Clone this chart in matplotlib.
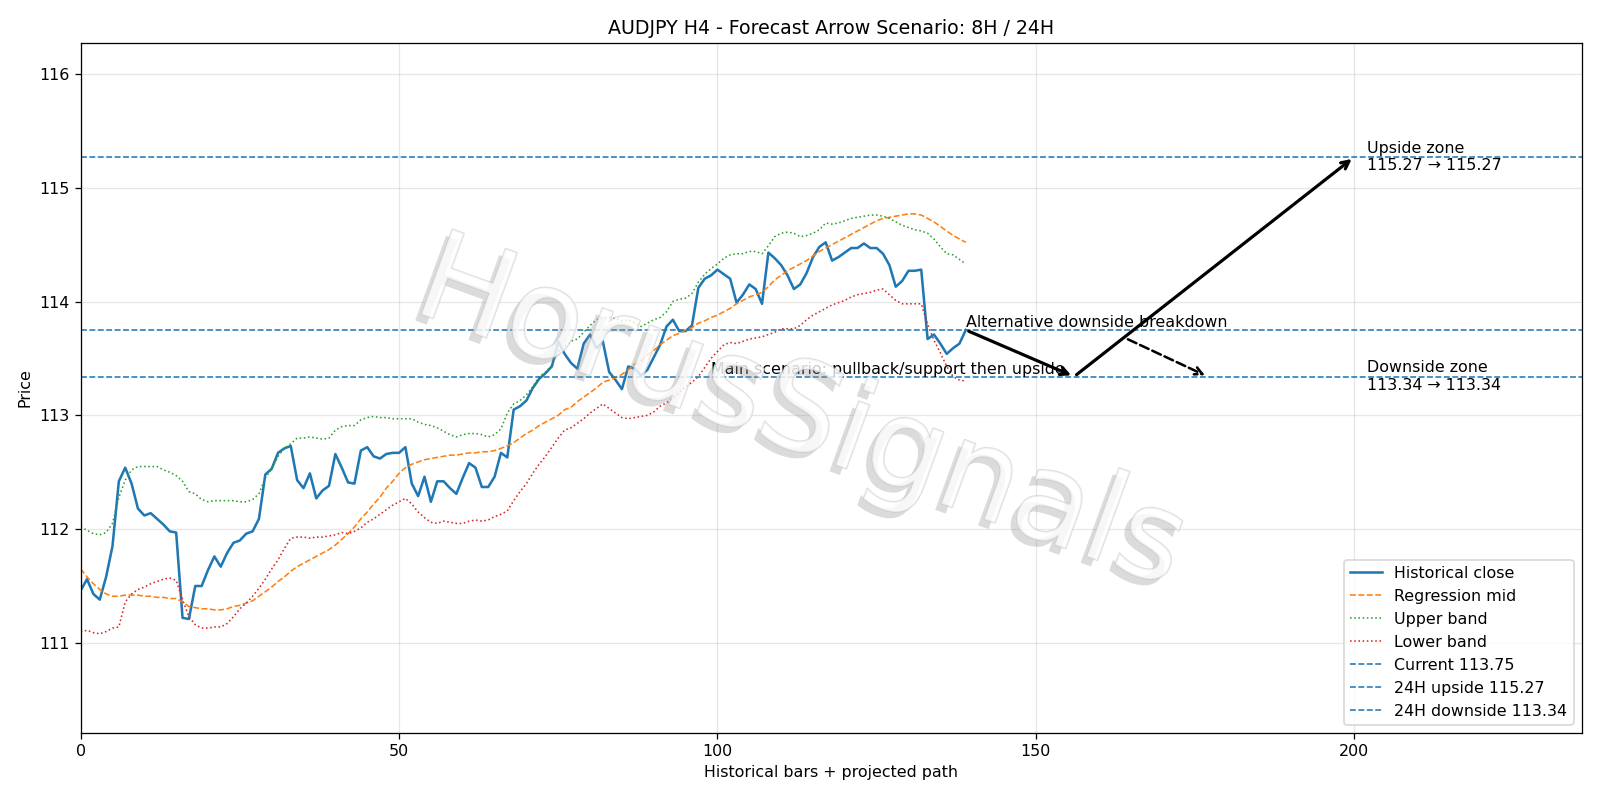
import matplotlib
matplotlib.use("Agg")
import matplotlib.pyplot as plt
import matplotlib.patheffects as pe
import numpy as np

close = [
    111.46, 111.56, 111.43, 111.38, 111.58, 111.85, 112.42, 112.54, 112.40, 112.18,
    112.12, 112.14, 112.09, 112.04, 111.98, 111.97, 111.22, 111.21, 111.50, 111.50,
    111.64, 111.76, 111.67, 111.79, 111.88, 111.90, 111.96, 111.98, 112.09, 112.48,
    112.53, 112.67, 112.71, 112.73, 112.43, 112.36, 112.49, 112.27, 112.34, 112.38,
    112.66, 112.54, 112.41, 112.40, 112.69, 112.72, 112.64, 112.62, 112.66, 112.67,
    112.67, 112.72, 112.40, 112.29, 112.46, 112.24, 112.42, 112.42, 112.36, 112.31,
    112.45, 112.58, 112.54, 112.37, 112.37, 112.46, 112.67, 112.63, 113.05, 113.08,
    113.13, 113.24, 113.32, 113.37, 113.43, 113.65, 113.54, 113.46, 113.41, 113.63,
    113.71, 113.59, 113.65, 113.38, 113.31, 113.23, 113.43, 113.41, 113.35, 113.40,
    113.51, 113.62, 113.78, 113.84, 113.74, 113.74, 113.79, 114.12, 114.20, 114.23,
    114.28, 114.24, 114.20, 113.99, 114.06, 114.15, 114.11, 113.98, 114.43, 114.38,
    114.32, 114.23, 114.11, 114.15, 114.25, 114.39, 114.48, 114.52, 114.36, 114.39,
    114.43, 114.47, 114.47, 114.51, 114.47, 114.47, 114.42, 114.32, 114.13, 114.18,
    114.27, 114.27, 114.28, 113.67, 113.71, 113.63, 113.54, 113.59, 113.63, 113.75,
]

mid = [
    111.65, 111.58, 111.52, 111.47, 111.43, 111.41, 111.41, 111.42, 111.42, 111.42,
    111.41, 111.41, 111.40, 111.40, 111.39, 111.39, 111.36, 111.32, 111.31, 111.30,
    111.30, 111.29, 111.29, 111.30, 111.32, 111.33, 111.35, 111.37, 111.41, 111.45,
    111.49, 111.54, 111.58, 111.63, 111.67, 111.70, 111.73, 111.76, 111.79, 111.82,
    111.86, 111.91, 111.96, 112.02, 112.09, 112.15, 112.22, 112.28, 112.36, 112.42,
    112.49, 112.54, 112.57, 112.59, 112.61, 112.62, 112.63, 112.64, 112.65, 112.65,
    112.66, 112.67, 112.67, 112.68, 112.68, 112.69, 112.71, 112.73, 112.76, 112.80,
    112.84, 112.87, 112.91, 112.94, 112.97, 113.00, 113.05, 113.07, 113.12, 113.16,
    113.20, 113.24, 113.29, 113.31, 113.33, 113.36, 113.40, 113.45, 113.48, 113.53,
    113.57, 113.62, 113.66, 113.70, 113.72, 113.75, 113.77, 113.81, 113.83, 113.86,
    113.88, 113.91, 113.94, 113.98, 114.01, 114.04, 114.06, 114.08, 114.13, 114.19,
    114.23, 114.27, 114.30, 114.33, 114.36, 114.40, 114.44, 114.47, 114.50, 114.53,
    114.56, 114.59, 114.62, 114.65, 114.68, 114.71, 114.73, 114.74, 114.75, 114.76,
    114.77, 114.77, 114.76, 114.73, 114.70, 114.66, 114.62, 114.58, 114.55, 114.52,
]

upper = [
    112.02, 111.99, 111.96, 111.95, 111.97, 112.05, 112.28, 112.43, 112.52, 112.55,
    112.55, 112.55, 112.55, 112.52, 112.50, 112.47, 112.42, 112.33, 112.31, 112.26,
    112.24, 112.25, 112.25, 112.25, 112.25, 112.24, 112.24, 112.26, 112.31, 112.45,
    112.53, 112.64, 112.71, 112.75, 112.80, 112.80, 112.81, 112.80, 112.79, 112.80,
    112.87, 112.90, 112.91, 112.91, 112.96, 112.98, 112.99, 112.98, 112.98, 112.97,
    112.97, 112.97, 112.97, 112.94, 112.92, 112.91, 112.89, 112.86, 112.83, 112.81,
    112.83, 112.84, 112.84, 112.83, 112.81, 112.83, 112.88, 113.02, 113.10, 113.13,
    113.18, 113.25, 113.34, 113.38, 113.44, 113.56, 113.60, 113.65, 113.67, 113.73,
    113.79, 113.84, 113.86, 113.86, 113.85, 113.83, 113.84, 113.81, 113.78, 113.81,
    113.84, 113.86, 113.91, 114.00, 114.02, 114.03, 114.07, 114.17, 114.24, 114.29,
    114.33, 114.38, 114.41, 114.42, 114.42, 114.44, 114.44, 114.42, 114.49, 114.57,
    114.60, 114.61, 114.60, 114.57, 114.58, 114.60, 114.63, 114.69, 114.68, 114.69,
    114.71, 114.73, 114.74, 114.75, 114.76, 114.76, 114.75, 114.73, 114.70, 114.67,
    114.65, 114.63, 114.62, 114.60, 114.55, 114.48, 114.42, 114.41, 114.37, 114.33,
]

lower = [
    111.10, 111.11, 111.09, 111.08, 111.10, 111.13, 111.14, 111.36, 111.43, 111.47,
    111.49, 111.52, 111.54, 111.56, 111.57, 111.55, 111.38, 111.23, 111.16, 111.13,
    111.13, 111.14, 111.14, 111.17, 111.23, 111.30, 111.35, 111.41, 111.48, 111.56,
    111.65, 111.73, 111.83, 111.92, 111.93, 111.93, 111.92, 111.93, 111.93, 111.94,
    111.95, 111.97, 111.96, 111.98, 112.01, 112.06, 112.09, 112.13, 112.17, 112.21,
    112.24, 112.27, 112.22, 112.15, 112.10, 112.06, 112.05, 112.07, 112.06, 112.05,
    112.05, 112.07, 112.08, 112.07, 112.08, 112.11, 112.13, 112.16, 112.25, 112.33,
    112.40, 112.49, 112.57, 112.64, 112.72, 112.80, 112.87, 112.89, 112.93, 112.97,
    113.02, 113.06, 113.10, 113.06, 113.02, 112.98, 112.97, 112.98, 112.99, 113.00,
    113.03, 113.08, 113.11, 113.15, 113.20, 113.25, 113.29, 113.34, 113.42, 113.50,
    113.56, 113.62, 113.64, 113.63, 113.65, 113.67, 113.68, 113.69, 113.71, 113.73,
    113.76, 113.76, 113.76, 113.79, 113.84, 113.88, 113.91, 113.94, 113.97, 113.99,
    114.01, 114.04, 114.06, 114.07, 114.08, 114.10, 114.11, 114.06, 114.01, 113.98,
    113.98, 113.98, 113.98, 113.80, 113.66, 113.55, 113.43, 113.34, 113.31, 113.30,
]

current = 113.75
upside = 115.27
downside = 113.34

# projected path: (x0, y0, x1, y1)
main_leg1 = (139, 113.75, 156, 113.34)
main_leg2 = (156, 113.34, 200, 115.27)
alt_leg = (164, 113.68, 177, 113.34)

x = np.arange(len(close))

fig, ax = plt.subplots(figsize=(14, 7), dpi=1600 / 14)
fig.subplots_adjust(left=0.0504, right=0.9885, top=0.946, bottom=0.084)

ax.plot(x, close, color="#1f77b4", lw=1.6, label="Historical close")
ax.plot(x, mid, color="#ff7f0e", lw=1.0, ls="--", label="Regression mid")
ax.plot(x, upper, color="#2ca02c", lw=1.0, ls=":", label="Upper band")
ax.plot(x, lower, color="#d62728", lw=1.0, ls=":", label="Lower band")
ax.axhline(current, color="#1f77b4", lw=1.0, ls="--", label=f"Current {current:.2f}")
ax.axhline(upside, color="#1f77b4", lw=1.0, ls="--", label=f"24H upside {upside:.2f}")
ax.axhline(downside, color="#1f77b4", lw=1.0, ls="--", label=f"24H downside {downside:.2f}")

for leg, ls in [(main_leg1, "-"), (main_leg2, "-"), (alt_leg, "--")]:
    ax.annotate("", xy=(leg[2], leg[3]), xytext=(leg[0], leg[1]),
                arrowprops=dict(arrowstyle="->", color="black", lw=2.0 if ls == "-" else 1.6,
                                linestyle=ls, mutation_scale=12))

ax.text(139, current, "Alternative downside breakdown", fontsize=10, va="bottom", ha="left")
ax.text(99, downside, "Main scenario: pullback/support then upside", fontsize=10, va="bottom", ha="left")
ax.text(202, upside, f"Upside zone\n{upside:.2f} \u2192 {upside:.2f}", fontsize=10, va="center")
ax.text(202, downside, f"Downside zone\n{downside:.2f} \u2192 {downside:.2f}", fontsize=10, va="center")

# watermark
ax.text(0.48, 0.46, "HorusSignals", transform=ax.transAxes, fontsize=78,
        color="white", alpha=0.55, rotation=-20, ha="center", va="center", zorder=5,
        path_effects=[pe.SimplePatchShadow(offset=(-4, -4), shadow_rgbFace="#999999", alpha=0.35),
                      pe.Stroke(linewidth=1.2, foreground="#c4c4c4"), pe.Normal()])

ax.set_xlim(0, 235.7)
ax.set_ylim(110.21, 116.27)
ax.set_title("AUDJPY H4 - Forecast Arrow Scenario: 8H / 24H")
ax.set_xlabel("Historical bars + projected path")
ax.set_ylabel("Price")
ax.grid(True, alpha=0.3)
ax.legend(loc="lower right")
fig.savefig("out.png")
